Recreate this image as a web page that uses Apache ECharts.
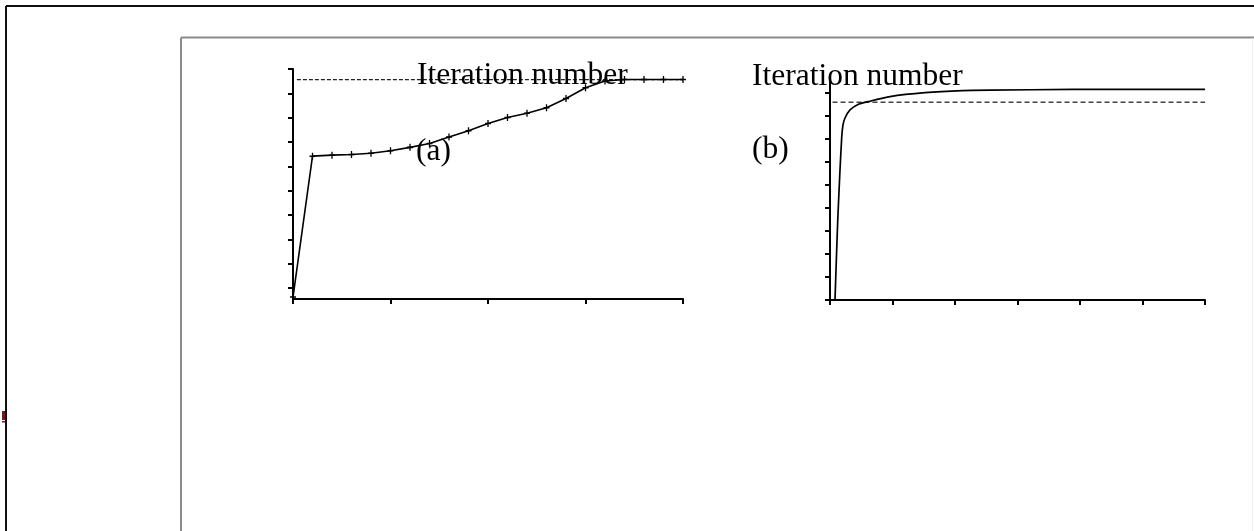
<!DOCTYPE html>
<html>
<head>
<meta charset="utf-8">
<script src="https://cdn.jsdelivr.net/npm/echarts@6/dist/echarts.min.js"></script>
<style>
  html, body { margin: 0; padding: 0; background: #fff; }
  #chart { width: 1254px; height: 531px; }
</style>
</head>
<body>
<div id="chart"></div>
<script>
// Panel (a): convergence per iteration, with '+' markers
const iterA = [0, 1, 2, 3, 4, 5, 6, 7, 8, 9, 10, 11, 12, 13, 14, 15, 16, 17, 18, 19, 20];
const fitnessA = [-0.37, 5.42, 5.46, 5.49, 5.54, 5.64, 5.78, 5.94, 6.21, 6.46, 6.76, 7.01, 7.18, 7.41, 7.79, 8.23, 8.51, 8.57, 8.57, 8.57, 8.57];
const refA = 8.56;

// Panel (b): convergence over a longer run
const iterB = [4, 4.8, 6.2, 8, 9.4, 10.4, 12, 16, 22.4, 30.4, 48, 76, 106, 128, 194, 300];
const fitnessB = [0, 1.3, 3.47, 5.64, 7.09, 7.6, 7.9, 8.25, 8.49, 8.61, 8.83, 9.0, 9.09, 9.11, 9.14, 9.14];
const refB = 8.58;

// Tick positions (no tick labels are printed)
const yTickValues = [0, 1, 2, 3, 4, 5, 6, 7, 8, 9];
const xAxisTitle = 'Iteration number';
const panelLabels = ['(a)', '(b)'];

const serif = '"Liberation Serif", "DejaVu Serif", serif';

function axisBase() {
  return {
    axisLine: { show: true, onZero: false, lineStyle: { color: '#000', width: 2 } },
    axisTick: { show: true, inside: false, length: 5, lineStyle: { color: '#000', width: 2 } },
    axisLabel: { show: false },
    splitLine: { show: false }
  };
}

const chart = echarts.init(document.getElementById('chart'), null, { renderer: 'canvas' });

const plusSymbol = 'path://M5,0L5,10M0,5L10,5';

function label(text, x, y) {
  return {
    type: 'text', x: x, y: y, z: 20,
    style: { text: text, font: '31.5px ' + serif, fill: '#000' }
  };
}

chart.setOption({
  animation: false,
  backgroundColor: '#fff',
  grid: [
    { left: 293, top: 69, width: 390, height: 230 },
    { left: 830, top: 80, width: 375, height: 220 }
  ],
  xAxis: [
    Object.assign(axisBase(), { type: 'value', gridIndex: 0, min: 0, max: 20, interval: 5 }),
    Object.assign(axisBase(), { type: 'value', gridIndex: 1, min: 0, max: 300, interval: 50 })
  ],
  yAxis: [
    Object.assign(axisBase(), {
      type: 'value', gridIndex: 0, min: -0.45, max: 9,
      axisTick: { show: true, inside: false, length: 5, customValues: yTickValues, lineStyle: { color: '#000', width: 2 } }
    }),
    Object.assign(axisBase(), {
      type: 'value', gridIndex: 1, min: 0, max: 9.55,
      axisTick: { show: true, inside: false, length: 5, customValues: yTickValues, lineStyle: { color: '#000', width: 2 } }
    })
  ],
  series: [
    {
      type: 'line', xAxisIndex: 0, yAxisIndex: 0,
      data: [[0.2, refA], [20, refA]],
      symbol: 'none',
      lineStyle: { color: '#222', width: 1.2, type: [4, 2] },
      z: 2
    },
    {
      type: 'line', xAxisIndex: 0, yAxisIndex: 0,
      data: iterA.map((x, i) => [x, fitnessA[i]]),
      symbol: plusSymbol, symbolSize: [6, 7],
      itemStyle: { color: '#000', borderColor: '#000', borderWidth: 1.4 },
      lineStyle: { color: '#000', width: 1.6 },
      z: 3
    },
    {
      type: 'line', xAxisIndex: 1, yAxisIndex: 1,
      data: [[2, refB], [300, refB]],
      symbol: 'none',
      lineStyle: { color: '#444', width: 1.5, type: [5, 3] },
      z: 2
    },
    {
      type: 'line', xAxisIndex: 1, yAxisIndex: 1,
      data: iterB.map((x, i) => [x, fitnessB[i]]),
      symbol: 'none', smooth: 0.2,
      lineStyle: { color: '#000', width: 1.7 },
      z: 3
    }
  ],
  graphic: [
    // outer frame
    { type: 'line', shape: { x1: 6, y1: 6, x2: 1254, y2: 6 }, style: { stroke: '#111', lineWidth: 2 }, z: 10 },
    { type: 'line', shape: { x1: 6, y1: 6, x2: 6, y2: 531 }, style: { stroke: '#111', lineWidth: 2 }, z: 10 },
    // inner gray panel border
    { type: 'line', shape: { x1: 181, y1: 37.5, x2: 1254, y2: 37.5 }, style: { stroke: '#8a8a8a', lineWidth: 2 }, z: 10 },
    { type: 'line', shape: { x1: 181, y1: 37.5, x2: 181, y2: 531 }, style: { stroke: '#8a8a8a', lineWidth: 2 }, z: 10 },
    { type: 'line', shape: { x1: 1252.5, y1: 38, x2: 1252.5, y2: 531 }, style: { stroke: '#eeeeee', lineWidth: 1 }, z: 10 },
    // small dark red mark at the left edge
    { type: 'rect', shape: { x: 2, y: 411, width: 4, height: 9 }, style: { fill: '#6e1c1c' }, z: 9 },
    { type: 'rect', shape: { x: 2, y: 421, width: 4, height: 1.5 }, style: { fill: '#6e1c1c' }, z: 9 },
    // axis titles and panel labels
    label(xAxisTitle, 417, 60),
    label(panelLabels[0], 416, 136),
    label(xAxisTitle, 752, 61),
    label(panelLabels[1], 752, 134)
  ]
});
</script>
</body>
</html>
